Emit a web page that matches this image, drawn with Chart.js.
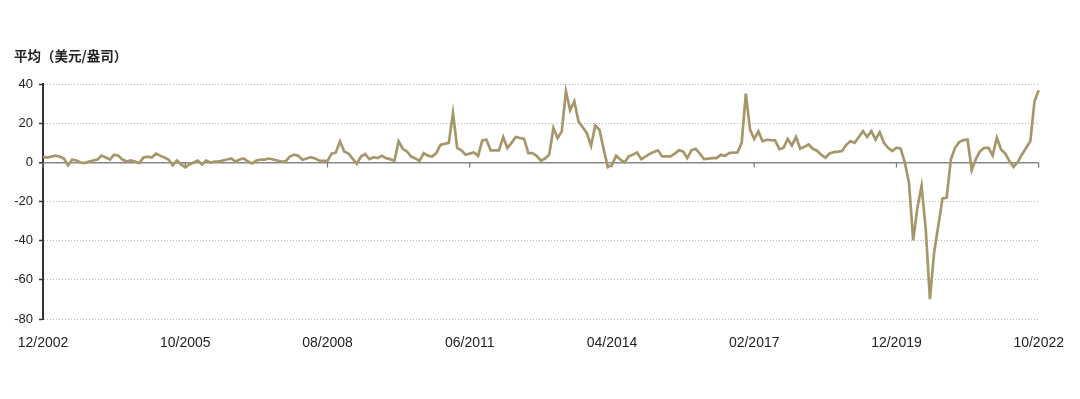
<!DOCTYPE html>
<html>
<head>
<meta charset="utf-8">
<script src="https://cdn.jsdelivr.net/npm/chart.js@4"></script>
<style>
  body { margin: 0; background: #fff; }
  #wrap { width: 1080px; height: 399px; }
</style>
</head>
<body>
<div id="wrap"><canvas id="goldChart" width="1080" height="399"></canvas></div>
<script>
// Monthly series, 12/2002 .. 10/2022 (239 months)
const firstMonth = { year: 2002, month: 12 };
const tickLabels = ["12/2002", "10/2005", "08/2008", "06/2011", "04/2014", "02/2017", "12/2019", "10/2022"];
const yTicks = [40, 20, 0, -20, -40, -60, -80];

const values = [
  3, 2.5, 3, 3.5, 3, 2, -1.5, 1.5, 1, 0, -0.3, 0.5,
  1, 1.5, 3.5, 2.5, 1.5, 4, 3.5, 1.5, 0.5, 1, 0.5, -0.3,
  2.5, 3, 2.5, 4.5, 3.5, 2.5, 1.5, -1.5, 1, -1, -2.5, -1,
  0, 1, -1, 1, 0, 0.5, 0.5, 1, 1.5, 2, 0.5, 1.5,
  2, 0.5, -0.5, 1, 1.5, 1.5, 2, 1.5, 1, 0.5, 0.5, 3,
  4, 3.5, 1.4, 2, 2.7, 2, 1, 0.8, 0.8, 4.5, 5.1, 10.8,
  5.6, 4.5, 2, -0.7, 3, 4.3, 1.7, 2.7, 2.2, 3.4, 2.2, 1.7,
  0.8, 10.8, 7, 5.6, 3, 2, 0.8, 4.8, 3.5, 3, 4.8, 9,
  9.5, 10, 25.3, 7.4, 6.2, 4, 4.5, 5.1, 3.4, 11.3, 11.6, 6.2,
  6.2, 6.2, 13, 7.4, 10, 13, 12.5, 12, 4.8, 4.8, 3.4, 0.9,
  2, 4, 17.6, 12.5, 15.9, 36.4, 26.7, 31.3, 21, 18, 15, 8.5,
  18.8, 16.8, 7, -2.4, -1.2, 3.4, 1.5, 0, 3.1, 4, 5.1, 1.7,
  3, 4.4, 5.3, 6.2, 3.1, 3.1, 3.1, 4.5, 6.2, 5.6, 2.2, 6.2,
  7, 4.5, 1.7, 2, 2.2, 2.2, 3.9, 3.4, 4.8, 5, 5.1, 10,
  35.2, 16.8, 12, 15.9, 10.8, 11.6, 11.4, 11.3, 6.8, 7.5, 12, 8.7,
  13, 7, 8, 9.2, 7, 6, 4, 2.4, 4.6, 5.3, 5.5, 5.8,
  9, 10.9, 10, 13, 16, 13, 16, 11.7, 15.5, 10, 7.5, 5.8,
  7.5, 7.1, 0, -10.4, -39.8, -23.1, -12, -34, -69.9, -46, -32.5, -18.5,
  -18, 1.5, 7.5, 10.4, 11.4, 11.7, -3.9, 1.9, 5.8, 7.5, 7.5, 3.6,
  12.6, 6.6, 4.6, 0.7, -2.2, 0.2, 4.1, 7.5, 10.9, 31.3, 36.9
];

// month labels for every point
const months = values.map((v, i) => {
  const m = (firstMonth.month - 1 + i) % 12 + 1;
  const y = firstMonth.year + Math.floor((firstMonth.month - 1 + i) / 12);
  return String(m).padStart(2, "0") + "/" + y;
});

// --------------------
// small ticks under the zero line
// --------------------
const zeroTicks = {
  id: "zeroTicks",
  beforeDatasetsDraw(chart) {
    const { ctx, scales } = chart;
    const y0 = scales.y.getPixelForValue(0);
    ctx.save();
    ctx.strokeStyle = "#777";
    ctx.lineWidth = 1.2;
    months.forEach((lab, i) => {
      if (!tickLabels.includes(lab)) return;
      const x = scales.x.getPixelForValue(i);
      ctx.beginPath();
      ctx.moveTo(x, y0);
      ctx.lineTo(x, y0 + 5);
      ctx.stroke();
    });
    ctx.restore();
  }
};

const ctx = document.getElementById("goldChart").getContext("2d");

new Chart(ctx, {
  type: "line",
  data: {
    labels: months,
    datasets: [{
      data: values,
      borderColor: "#a6976b",
      borderWidth: 2.7,
      pointRadius: 0,
      tension: 0,
      fill: false,
    }],
  },
  options: {
    responsive: false,
    animation: false,
    layout: { padding: { left: 14, right: 38, top: 0, bottom: 0 } },
    plugins: {
      legend: { display: false },
      tooltip: { enabled: false },
      title: {
        display: true,
        text: "平均（美元/盎司）",
        align: "start",
        color: "#222",
        font: { family: "'Noto Sans CJK SC', 'Liberation Sans', sans-serif", size: 13.5 },
        padding: { top: 48, bottom: 20 },
      },
    },
    scales: {
      x: {
        type: "category",
        offset: false,
        grid: { display: false, drawTicks: false, tickLength: 0 },
        border: { display: false },
        afterFit: (scale) => { scale.height = 80; },
        ticks: {
          autoSkip: false,
          maxRotation: 0,
          padding: 16,
          color: "#222",
          font: { family: "'Liberation Sans', Arial, sans-serif", size: 14 },
          callback: (val, i) => (tickLabels.includes(months[i]) ? months[i] : null),
        },
      },
      y: {
        min: -80,
        max: 40,
        afterBuildTicks: (scale) => { scale.ticks = yTicks.map((v) => ({ value: v })); },
        afterFit: (scale) => { scale.width = 29; },
        grid: {
          color: (c) => (c.tick && c.tick.value === 0 ? "#888" : "#b5b5b5"),
          lineWidth: (c) => (c.tick && c.tick.value === 0 ? 1.5 : 1),
          drawTicks: true,
          tickLength: 4,
          tickColor: "#333",
          tickWidth: 1.5,
          tickBorderDash: [],
        },
        border: {
          display: true,
          color: "#333",
          width: 2,
          dash: (c) => (c.tick && c.tick.value === 0 ? [] : [1, 2]),
        },
        ticks: {
          padding: 6,
          color: "#222",
          font: { family: "'Liberation Sans', Arial, sans-serif", size: 13 },
        },
      },
    },
  },
  plugins: [zeroTicks],
});
</script>
</body>
</html>
